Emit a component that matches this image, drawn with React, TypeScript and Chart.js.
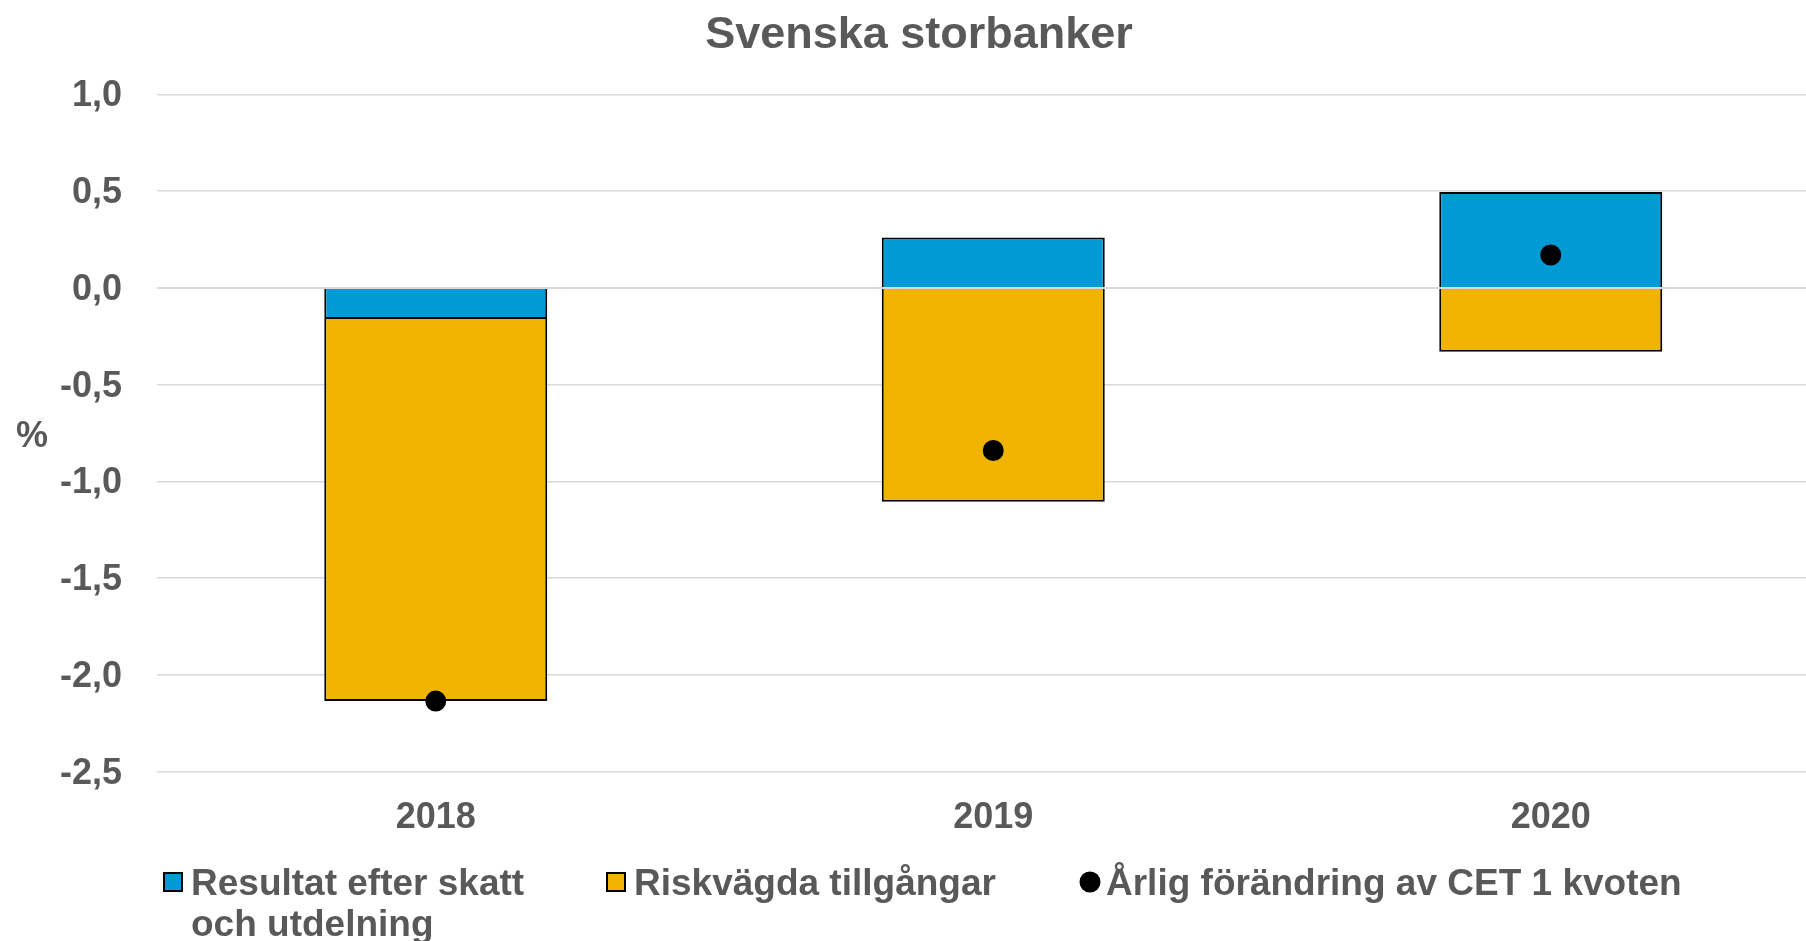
import React, { useEffect, useRef } from 'react';
import { Chart, registerables } from 'chart.js';

Chart.register(...registerables);

// ---- Data ----
const categories = ['2018', '2019', '2020'];
const resultatValues = [-0.16, 0.26, 0.495];
const riskValues = [-1.975, -1.105, -0.33];
const cet1Values = [-2.135, -0.84, 0.17];
const yTickValues = [1.0, 0.5, 0, -0.5, -1.0, -1.5, -2.0, -2.5];

const titleText = 'Svenska storbanker';
const yAxisTitle = '%';
const resultatLabel = ['Resultat efter skatt', 'och utdelning'];
const riskLabel = ['Riskvägda tillgångar'];
const cet1Label = ['Årlig förändring av CET 1 kvoten'];

// ---- Styles ----
const BLUE = '#009BD5';
const YELLOW = '#F0B400';
const TEXT = '#595959';
const GRID = '#D9D9D9';
const FONT = '"Liberation Sans", Arial, sans-serif';

const CANVAS_W = 1840;
const CANVAS_H = 941;

const decorPlugin = {
  id: 'decor',
  afterDatasetsDraw(chart: any) {
    const { ctx, chartArea, scales } = chart;
    const y0 = scales.y.getPixelForValue(0);
    ctx.save();
    ctx.strokeStyle = GRID;
    ctx.lineWidth = 2;
    ctx.beginPath();
    ctx.moveTo(chartArea.left, y0);
    ctx.lineTo(chartArea.right, y0);
    ctx.stroke();
    ctx.restore();
  },
  afterDraw(chart: any) {
    const { ctx } = chart;
    ctx.save();
    ctx.fillStyle = TEXT;
    ctx.textBaseline = 'middle';

    // Title
    ctx.font = `bold 45px ${FONT}`;
    ctx.textAlign = 'center';
    ctx.fillText(titleText, 919, 35.5);

    // Y axis title
    ctx.font = `bold 36px ${FONT}`;
    ctx.fillText(yAxisTitle, 32, 437);

    // Legend
    ctx.font = `bold 37px ${FONT}`;
    ctx.textAlign = 'left';
    const rowY = 882;
    const textY = 884.5;
    const lineH = 41.5;
    const drawBox = (x: number, color: string) => {
      ctx.fillStyle = '#000';
      ctx.fillRect(x, rowY - 10, 20, 20);
      ctx.fillStyle = color;
      ctx.fillRect(x + 2, rowY - 8, 16, 16);
    };
    const drawLines = (x: number, lines: string[]) => {
      ctx.fillStyle = TEXT;
      lines.forEach((l, i) => ctx.fillText(l, x, textY + i * lineH));
    };
    drawBox(163, BLUE);
    drawLines(191, resultatLabel);
    drawBox(606, YELLOW);
    drawLines(634, riskLabel);
    ctx.fillStyle = '#000';
    ctx.beginPath();
    ctx.arc(1090, rowY, 10.5, 0, Math.PI * 2);
    ctx.fill();
    drawLines(1106, cet1Label);
    ctx.restore();
  },
};

export default function App() {
  const canvasRef = useRef<HTMLCanvasElement | null>(null);

  useEffect(() => {
    const canvas = canvasRef.current;
    if (!canvas) return;
    const chart = new Chart(canvas, {
      type: 'bar',
      data: {
        labels: categories,
        datasets: [
          {
            type: 'line',
            label: cet1Label.join(' '),
            data: cet1Values,
            showLine: false,
            pointRadius: 10.5,
            pointHoverRadius: 10.5,
            pointBackgroundColor: '#000',
            pointBorderColor: '#000',
            pointBorderWidth: 0,
            stack: 'dots',
            order: 0,
          } as any,
          {
            type: 'bar',
            label: resultatLabel.join(' '),
            data: resultatValues,
            backgroundColor: BLUE,
            borderColor: '#000',
            borderWidth: 2,
            stack: 'bars',
            order: 1,
          },
          {
            type: 'bar',
            label: riskLabel.join(' '),
            data: riskValues,
            backgroundColor: YELLOW,
            borderColor: '#000',
            borderWidth: 2,
            stack: 'bars',
            order: 1,
          },
        ],
      },
      options: {
        responsive: false,
        animation: false,
        devicePixelRatio: 1,
        datasets: {
          bar: { barPercentage: 0.4, categoryPercentage: 1.0 },
        },
        layout: {
          padding: { top: 94.4, left: 0, right: CANVAS_W - 1830, bottom: CANVAS_H - 771.7 - 70 },
        },
        plugins: {
          legend: { display: false },
          title: { display: false },
          tooltip: { enabled: false },
        },
        scales: {
          x: {
            stacked: true,
            offset: true,
            grid: { display: false, drawTicks: false },
            border: { display: false },
            ticks: {
              color: TEXT,
              font: { family: FONT, size: 36, weight: 'bold' },
              padding: 25,
            },
            afterFit: (s: any) => {
              s.height = 70;
            },
          },
          y: {
            stacked: true,
            min: -2.5,
            max: 1.0,
            grid: { color: GRID, lineWidth: 1.5, drawTicks: false },
            border: { display: false },
            ticks: {
              color: TEXT,
              font: { family: FONT, size: 36, weight: 'bold' },
              padding: 35,
              labelOffset: 2,
              callback: (v: any) => Number(v).toFixed(1).replace('.', ','),
            },
            afterBuildTicks: (s: any) => {
              s.ticks = yTickValues.map((v) => ({ value: v }));
            },
            afterFit: (s: any) => {
              s.width = 157;
            },
          },
        },
      },
      plugins: [decorPlugin],
    });
    return () => chart.destroy();
  }, []);

  return (
    <div
      style={{
        position: 'fixed',
        left: 0,
        top: 0,
        width: 1806,
        height: 941,
        overflow: 'hidden',
        background: '#fff',
      }}
    >
      <canvas
        ref={canvasRef}
        width={CANVAS_W}
        height={CANVAS_H}
        style={{ display: 'block', width: CANVAS_W, height: CANVAS_H }}
      />
    </div>
  );
}
